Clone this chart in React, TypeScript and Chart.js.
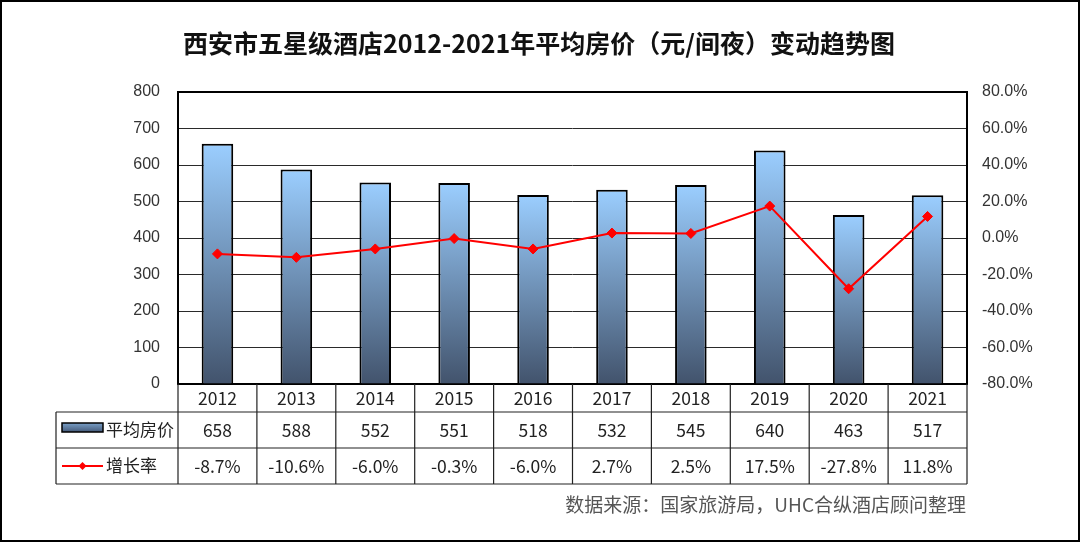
import React, { useEffect, useRef } from 'react';
import { Chart, registerables } from 'chart.js';

Chart.register(...registerables);

const titleText = '西安市五星级酒店2012-2021年平均房价（元/间夜）变动趋势图';
const sourceText = '数据来源：国家旅游局，UHC合纵酒店顾问整理';
const categories = ['2012', '2013', '2014', '2015', '2016', '2017', '2018', '2019', '2020', '2021'];
const priceLabel = '平均房价';
const growthLabel = '增长率';
const priceValues = [658, 588, 552, 551, 518, 532, 545, 640, 463, 517];
const growthValues = [-8.7, -10.6, -6.0, -0.3, -6.0, 2.7, 2.5, 17.5, -27.8, 11.8];

const CJK = '"Noto Sans CJK SC", "Noto Sans", sans-serif';
const LAT = '"Liberation Sans", Arial, sans-serif';

const GRAD_TOP = '#9BCEFF';
const GRAD_BOT = '#42536C';

export default function App() {
  const ref = useRef<HTMLCanvasElement>(null);

  useEffect(() => {
    document.body.style.margin = '0';
    const canvas = ref.current!;

    const decor = {
      id: 'decor',
      beforeDraw(chart: any) {
        const c = chart.ctx;
        c.save();
        c.fillStyle = '#fff';
        c.fillRect(0, 0, chart.width, chart.height);
        c.restore();
      },
      beforeDatasetsDraw(chart: any) {
        const c = chart.ctx;
        const a = chart.chartArea;
        c.save();
        c.strokeStyle = '#000';
        c.lineWidth = 2;
        c.strokeRect(a.left, a.top, a.right - a.left, a.bottom - a.top);
        c.restore();
      },
      afterDraw(chart: any) {
        const c = chart.ctx;
        const a = chart.chartArea;
        const xs = chart.scales.x;
        c.save();
        // title
        c.fillStyle = '#111';
        c.font = `bold 25px ${CJK}`;
        c.textAlign = 'center';
        c.textBaseline = 'middle';
        c.fillText(titleText, 539, 43);

        // table
        const tLeft = 56;
        const r0 = a.bottom;
        const r1 = 412;
        const r2 = 448;
        const r3 = 484;
        const colW = (a.right - a.left) / categories.length;
        c.strokeStyle = '#222';
        c.lineWidth = 1.2;
        c.beginPath();
        c.moveTo(tLeft, r1); c.lineTo(a.right, r1);
        c.moveTo(tLeft, r2); c.lineTo(a.right, r2);
        c.moveTo(tLeft, r3); c.lineTo(a.right, r3);
        c.moveTo(tLeft, r1); c.lineTo(tLeft, r3);
        for (let i = 0; i <= categories.length; i++) {
          const x = a.left + i * colW;
          c.moveTo(x, r0); c.lineTo(x, r3);
        }
        c.stroke();

        c.fillStyle = '#222';
        c.font = `17.5px ${CJK}`;
        c.textAlign = 'center';
        c.textBaseline = 'middle';
        categories.forEach((cat, i) => {
          const x = xs.getPixelForValue(i);
          c.fillText(cat, x, (r0 + r1) / 2);
          c.fillText(String(priceValues[i]), x, (r1 + r2) / 2);
          c.fillText(growthValues[i].toFixed(1) + '%', x, (r2 + r3) / 2);
        });

        // legend keys
        const g = c.createLinearGradient(0, 422, 0, 433);
        g.addColorStop(0, '#7FA7D0');
        g.addColorStop(1, '#3F5270');
        c.fillStyle = g;
        c.fillRect(62, 423, 41, 9);
        c.strokeStyle = '#000';
        c.lineWidth = 1.5;
        c.strokeRect(62, 423, 41, 9);

        c.strokeStyle = '#FF0000';
        c.lineWidth = 2;
        c.beginPath();
        c.moveTo(62, 466); c.lineTo(103, 466);
        c.stroke();
        c.fillStyle = '#FF0000';
        c.beginPath();
        c.moveTo(82.5, 462); c.lineTo(86.5, 466); c.lineTo(82.5, 470); c.lineTo(78.5, 466);
        c.closePath();
        c.fill();

        c.fillStyle = '#222';
        c.font = `17px ${CJK}`;
        c.textAlign = 'left';
        c.fillText(priceLabel, 106, (r1 + r2) / 2);
        c.fillText(growthLabel, 106, (r2 + r3) / 2);

        // source
        c.fillStyle = '#555';
        c.font = `19px ${CJK}`;
        c.textAlign = 'right';
        c.fillText(sourceText, 966, 505);

        // outer border
        c.strokeStyle = '#000';
        c.lineWidth = 2;
        c.strokeRect(1, 1, chart.width - 2, chart.height - 2);
        c.restore();
      },
    };

    const chart = new Chart(canvas, {
      type: 'bar',
      data: {
        labels: categories,
        datasets: [
          {
            type: 'line',
            label: growthLabel,
            data: growthValues,
            yAxisID: 'y1',
            order: 0,
            borderColor: '#FF0000',
            backgroundColor: '#FF0000',
            borderWidth: 2,
            pointStyle: 'rectRot',
            pointRadius: 5,
            pointBackgroundColor: '#FF0000',
            pointBorderColor: '#FF0000',
            pointBorderWidth: 1,
            tension: 0,
          } as any,
          {
            type: 'bar',
            label: priceLabel,
            data: priceValues,
            yAxisID: 'y',
            order: 1,
            borderColor: '#000',
            borderWidth: 2,
            categoryPercentage: 1,
            barPercentage: 0.4,
            backgroundColor: (ctx: any) => {
              const ch = ctx.chart;
              if (!ch.chartArea || ctx.type !== 'data' || !ctx.parsed) return '#7EA6CF';
              const ys = ch.scales.y;
              const top = ys.getPixelForValue(ctx.parsed.y);
              const bot = ys.getPixelForValue(0);
              const g = ch.ctx.createLinearGradient(0, top, 0, bot);
              g.addColorStop(0, GRAD_TOP);
              g.addColorStop(1, GRAD_BOT);
              return g;
            },
          } as any,
        ],
      },
      options: {
        responsive: false,
        animation: false,
        layout: { padding: { top: 92, bottom: 158, left: 0, right: 0 } },
        plugins: {
          legend: { display: false },
          title: { display: false },
          tooltip: { enabled: false },
        },
        scales: {
          x: {
            display: false,
            offset: true,
          },
          y: {
            position: 'left',
            min: 0,
            max: 800,
            ticks: {
              stepSize: 100,
              color: '#333',
              font: { family: LAT, size: 16 },
              padding: 18,
            },
            grid: { color: '#2a2a2a', lineWidth: 1, drawTicks: false },
            border: { display: false },
            afterFit: (s: any) => { s.width = 178; },
          },
          y1: {
            position: 'right',
            min: -80,
            max: 80,
            ticks: {
              stepSize: 20,
              color: '#333',
              font: { family: LAT, size: 16 },
              padding: 15,
              callback: (v: any) => Number(v).toFixed(1) + '%',
            },
            grid: { display: false, drawTicks: false },
            border: { display: false },
            afterFit: (s: any) => { s.width = 113; },
          },
        },
      } as any,
      plugins: [decor],
    });

    return () => chart.destroy();
  }, []);

  return <canvas ref={ref} width={1080} height={542} style={{ display: 'block' }} />;
}
